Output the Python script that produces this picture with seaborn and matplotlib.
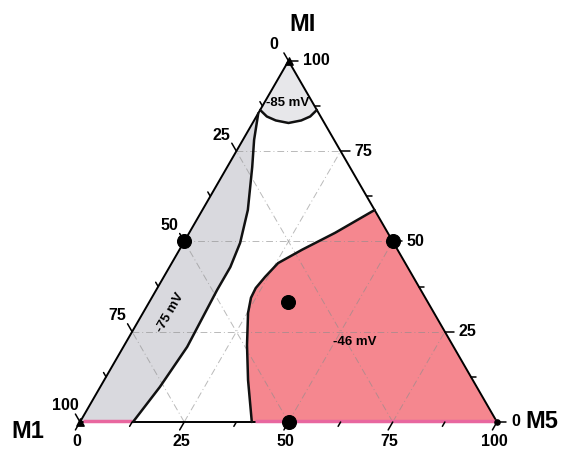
import numpy as np
import pandas as pd
import matplotlib
matplotlib.use("Agg")
import matplotlib.pyplot as plt
import seaborn as sns

# compositions in %: M5 = bottom axis, MI = right axis, M1 = 100 - M5 - MI
arc_m5 = [0, 2.5, 5.2, 8.6, 11.3, 12.9, 13.6]
arc_mi = [86.4, 84.6, 83.5, 82.8, 83.5, 84.6, 86.4]

band_m5 = [12.7, 14.3, 15.3, 14.6, 14.6, 13.6, 10.9, 6.0, 2.7, 0.0]
band_mi = [0, 9.7, 20.8, 36.6, 42.9, 49.6, 58.7, 70.6, 78.1, 85.5]

red_m5 = [41.2, 34.5, 29.4, 25.2, 23.8, 23.6, 24.3, 25.5, 29.4, 35.0, 41.3]
red_mi = [0, 11.6, 21.3, 30.2, 34.4, 37.1, 40.2, 44.0, 47.7, 52.4, 58.7]

pts_m5 = [0, 50, 33.3, 50]
pts_mi = [50, 50, 33.3, 0]

ticks = [0, 25, 50, 75, 100]
region_labels = ["-85 mV", "-75 mV", "-46 mV"]

H = np.sqrt(3) / 2


def xy(m5, mi):
    m5 = np.asarray(m5, float) / 100
    mi = np.asarray(mi, float) / 100
    return m5 + mi / 2, mi * H


sns.set_style("white")
plt.rcParams['font.family'] = ['Liberation Sans', 'DejaVu Sans']
plt.rcParams['text.color'] = 'black'

fig = plt.figure(figsize=(5.66, 4.5), dpi=100)
ax = fig.add_axes([0, 0, 1, 1])
ax.set_xlim(-80 / 417, 486 / 417)
ax.set_ylim(-28 / 417, 422 / 417)
ax.set_aspect('equal')
ax.axis('off')

# shaded regions
tx, ty = xy(arc_m5 + [0], arc_mi + [100])
ax.fill(tx, ty, color='#e7e7ea', lw=0)
bx, by = xy(band_m5 + [0], band_mi + [0])
ax.fill(bx, by, color='#d9d9de', lw=0)
rx, ry = xy(red_m5 + [100], red_mi + [0])
ax.fill(rx, ry, color='#f5878f', lw=0)

# grid
for k in [25, 50, 75]:
    lines = [([0, 100 - k], [k, k]),          # MI = k
             ([k, k], [0, 100 - k]),          # M5 = k
             ([100 - k, 0], [0, 100 - k])]    # M1 = k
    for m5s, mis in lines:
        gx, gy = xy(m5s, mis)
        ax.plot(gx, gy, color='#8c8c8c', lw=0.7, ls=(0, (7, 3, 1, 3)), alpha=0.6)

# triangle frame
fx, fy = xy([0, 100, 0, 0], [0, 0, 100, 0])
ax.plot(fx, fy, color='black', lw=1.4, solid_joinstyle='miter')
# pink strip along the bottom of the filled regions
for a, b in [(0, band_m5[0]), (red_m5[0], 100)]:
    px, py = xy([a + 0.5, b - 0.5], [0.4, 0.4])
    ax.plot(px, py, color='#e8679f', lw=2.5, solid_capstyle='butt')

# boundaries
for m5s, mis in [(arc_m5, arc_mi), (band_m5, band_mi), (red_m5, red_mi)]:
    cx, cy = xy(m5s, mis)
    ax.plot(cx, cy, color='#111111', lw=1.8)

# ticks
for k in np.arange(0, 100.1, 12.5):
    ln = 0.022 if k % 25 == 0 else 0.012
    # bottom (M5)
    x0, y0 = xy(k, 0)
    ax.plot([x0, x0 - 0.5 * ln], [y0, y0 - H * ln], color='black', lw=1.1)
    # right (MI)
    x0, y0 = xy(100 - k, k)
    ax.plot([x0, x0 + ln], [y0, y0], color='black', lw=1.1)
    # left (M1)
    x0, y0 = xy(0, 100 - k)
    ax.plot([x0, x0 - 0.5 * ln], [y0, y0 + H * ln], color='black', lw=1.1)

tk = dict(fontsize=11.5, fontweight='bold', textcoords='offset pixels')
for k in ticks:
    ax.annotate(str(k), xy(k, 0), xytext=(-3, -19), ha='center', va='center', **tk)
    ax.annotate(str(k), xy(100 - k, k), xytext=(14, 0), ha='left', va='center', **tk)
    ax.annotate(str(k), xy(0, 100 - k), xytext=(-15, 16), ha='center', va='center', **tk)

# data points
px, py = xy(pts_m5, pts_mi)
df = pd.DataFrame({'x': px, 'y': py})
sns.scatterplot(data=df, x='x', y='y', s=100, color='black', edgecolor='black', ax=ax, zorder=5)
cx, cy = xy([0, 0], [0, 100])
ax.scatter(cx, cy, marker='^', s=28, color='black', zorder=5)
cx, cy = xy([100], [0])
ax.scatter(cx, cy, marker='o', s=14, color='black', zorder=5)

# axis names
ax.text((303 - 80) / 417, (422 - 25) / 417, 'MI', fontsize=17, fontweight='bold', ha='center', va='center')
ax.text((28 - 80) / 417, (422 - 431) / 417, 'M1', fontsize=17, fontweight='bold', ha='center', va='center')
ax.text((542 - 80) / 417, (422 - 421) / 417, 'M5', fontsize=17, fontweight='bold', ha='center', va='center')

# region labels
ax.text((288 - 80) / 417, (422 - 103) / 417, region_labels[0], fontsize=9.5, fontweight='bold', ha='center', va='center')
ax.text((170 - 80) / 417, (422 - 313) / 417, region_labels[1], fontsize=9.5, fontweight='bold', ha='center', va='center', rotation=60)
ax.text((355 - 80) / 417, (422 - 342) / 417, region_labels[2], fontsize=9.5, fontweight='bold', ha='center', va='center')

fig.savefig('out.png', dpi=100)
